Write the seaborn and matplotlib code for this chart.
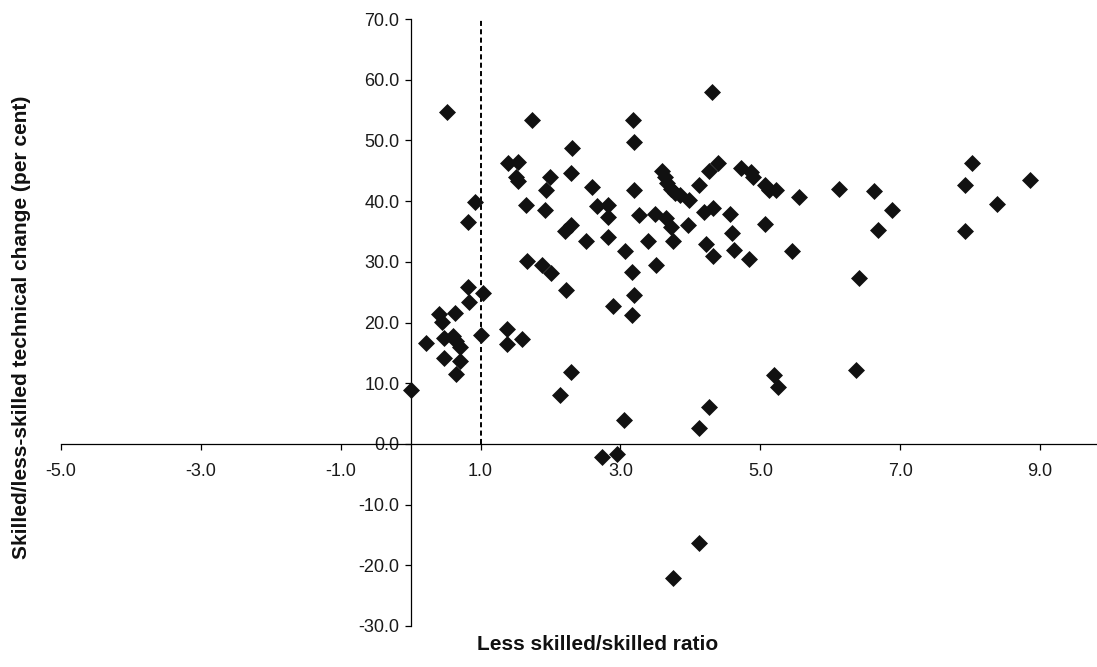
import matplotlib
matplotlib.use('Agg')
import matplotlib.pyplot as plt
import seaborn as sns
import pandas as pd

# values
ratio = [0.00, 0.22, 0.41, 0.45, 0.48, 0.48, 0.52, 0.61, 0.64, 0.65, 0.65, 0.71, 0.71,
         0.82, 0.83, 0.82, 0.92, 1.01, 1.03,
         1.38, 1.38, 1.39, 1.53, 1.51, 1.53, 1.59, 1.65, 1.66, 1.74, 1.88, 1.92, 1.94,
         1.99, 2.00, 2.14, 2.20, 2.22, 2.29, 2.29, 2.29, 2.30, 2.51, 2.60, 2.66, 2.74,
         2.82, 2.82, 2.82, 2.89, 2.95, 3.05, 3.07, 3.17, 3.19, 3.17, 3.18, 3.20, 3.19,
         3.27, 3.40, 3.51, 3.50,
         3.60, 3.63, 3.67, 3.72, 3.78, 3.85, 3.65, 3.72, 3.75, 3.75, 3.96, 3.98, 4.12,
         4.13, 4.13, 4.20, 4.22, 4.26, 4.26, 4.31, 4.32, 4.32, 4.40,
         4.57, 4.60, 4.63, 4.72, 4.84, 4.86, 4.90, 5.06, 5.07, 5.13, 5.23, 5.20, 5.25,
         5.46, 5.56, 6.12, 6.37, 6.41, 6.62, 6.68, 6.89, 7.92, 7.92, 8.03, 8.39, 8.85]
tech_change = [8.8, 16.6, 21.4, 20.1, 17.5, 14.2, 54.7, 17.7, 21.6, 16.9, 11.5, 15.9, 13.7,
               25.9, 23.4, 36.5, 39.9, 17.9, 24.8,
               19.0, 16.4, 46.2, 46.5, 44.0, 43.3, 17.2, 39.3, 30.2, 53.4, 29.5, 38.5, 41.8,
               44.0, 28.2, 8.0, 35.0, 25.3, 36.0, 44.6, 11.9, 48.8, 33.5, 42.3, 39.2, -2.2,
               39.4, 37.3, 34.1, 22.8, -1.6, 4.0, 31.7, 28.4, 24.5, 21.2, 53.3, 49.8, 41.9,
               37.7, 33.5, 29.5, 37.8,
               44.9, 44.0, 43.0, 42.0, 41.3, 41.0, 37.2, 35.8, 33.4, -22.1, 36.1, 40.1, 2.7,
               42.7, -16.3, 38.2, 33.0, 6.1, 44.9, 58.0, 38.8, 31.0, 46.2,
               37.9, 34.8, 31.9, 45.5, 30.4, 44.8, 44.0, 42.6, 36.3, 41.9, 41.9, 11.3, 9.3,
               31.8, 40.7, 42.0, 12.1, 27.3, 41.6, 35.2, 38.6, 42.6, 35.0, 46.3, 39.6, 43.4]

x_ticks = [-5.0, -3.0, -1.0, 1.0, 3.0, 5.0, 7.0, 9.0]
y_ticks = [-30.0, -20.0, -10.0, 0.0, 10.0, 20.0, 30.0, 40.0, 50.0, 60.0, 70.0]
ref_x = 1.0

x_title = 'Less skilled/skilled ratio'
y_title = 'Skilled/less-skilled technical change (per cent)'

sns.set_style('white')
plt.rcParams['font.family'] = ['Liberation Sans', 'DejaVu Sans']

df = pd.DataFrame({'ratio': ratio, 'change': tech_change})

fig = plt.figure(figsize=(10.97, 6.67), dpi=100)
ax = fig.add_axes([61 / 1097, 1 - 626 / 667, (1096 - 61) / 1097, (626 - 19) / 667])

sns.scatterplot(data=df, x='ratio', y='change', marker='D', s=75, color='#111111',
                linewidth=0, zorder=3, ax=ax)

# dashed reference line at ratio = 1
ax.vlines(ref_x, 0, y_ticks[-1], colors='black', linestyles=(0, (2.6, 1.7)), lw=1.4, zorder=2)

ax.set_xlim(x_ticks[0], 9.8)
ax.set_ylim(y_ticks[0], y_ticks[-1])

# axes cross at the origin, excel style
ax.spines['left'].set_position(('data', 0))
ax.spines['bottom'].set_position(('data', 0))
ax.spines['top'].set_visible(False)
ax.spines['right'].set_visible(False)
for s in ['left', 'bottom']:
    ax.spines[s].set_color('black')
    ax.spines[s].set_linewidth(0.9)

ax.set_xticks(x_ticks)
ax.set_xticklabels([f'{v:.1f}' for v in x_ticks])
ax.set_yticks(y_ticks)
ax.set_yticklabels([f'{v:.1f}' for v in y_ticks])
ax.tick_params(axis='both', bottom=True, left=True, direction='out', length=4, width=0.9,
               color='black', labelsize=13, labelcolor='#1a1a1a')
ax.tick_params(axis='x', pad=10)
ax.tick_params(axis='y', pad=4)
ax.set_xlabel('')
ax.set_ylabel('')

fig.text(22 / 1097, 0.51, y_title, rotation=90, ha='center', va='center',
         fontsize=15, fontweight='bold', color='#111111')
fig.text(598 / 1097, 1 - 645 / 667, x_title, ha='center', va='center',
         fontsize=15, fontweight='bold', color='#111111')

fig.savefig('out.png', dpi=100)
